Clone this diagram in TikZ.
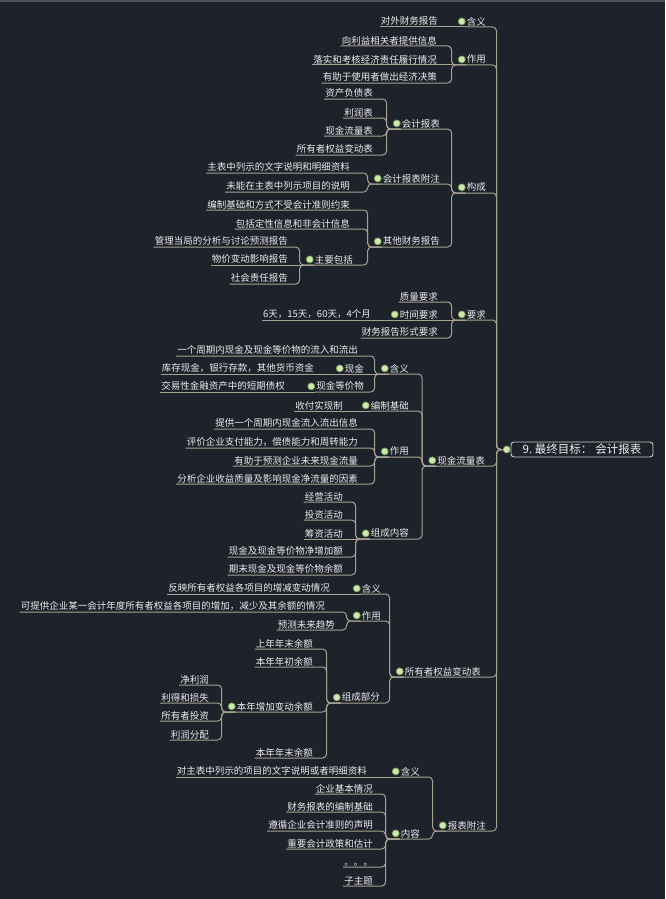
\documentclass[tikz,border=0pt]{standalone}
\usepackage{fontspec}
\newfontfamily\cjk{Noto Sans CJK SC}
\usetikzlibrary{positioning}
\definecolor{bgnavy}  {RGB}{30, 34, 43}
\definecolor{topbar}  {RGB}{78, 82, 90}
\definecolor{txtgray} {RGB}{236,236,236}
\definecolor{linetan} {RGB}{168,160,146}
\definecolor{dotgreen}{RGB}{208,232,172}
\definecolor{dotrim}  {RGB}{118,158, 88}

\tikzset{
  leaf/.style={anchor=south east, inner xsep=1pt, inner ysep=1pt, text=txtgray,
    font=\cjk\fontsize{9.5}{11}\selectfont},
  topicdot/.style={circle, fill=dotgreen, draw=dotrim, line width=0.7pt,
    minimum size=7pt, inner sep=0pt},
  subtopic/.style={leaf, label distance=0.5pt, label={[topicdot]left:}},
  rootbox/.style={draw=linetan!55!white, line width=0.9pt, rounded corners=3pt,
    text=txtgray, font=\cjk\fontsize{11.5}{13}\selectfont, minimum width=142pt,
    minimum height=15pt, inner sep=1pt, label distance=1pt, label={[topicdot]left:}},
  branchline/.style={draw=linetan, line width=1pt, rounded corners=4pt}
}
% children -> parent: underline, then bend into the parent's line
\newcommand{\joinkids}[2]{%
  \foreach \kid in {#2}
    \draw[branchline] (\kid.south west) -- (\kid.south east)
      -| ([xshift=-14pt]#1.south west) -- (#1.south west);}

\begin{document}
\begin{tikzpicture}[x=1pt, y=-1pt]
  % canvas
  \fill[bgnavy] (0,0) rectangle (665,899);
  \useasboundingbox (0,0) rectangle (665,899);
  \fill[topbar] (0,0) rectangle (665,2);

  % central topic
  \node[rootbox] (root) at (582,449.5) {9.\ 最终目标：\hspace{3pt}会计报表};

  % main branches
  \node[subtopic] (mean)   at (487,27)  {含义};
  \node[subtopic] (use)    at (487,65)  {作用};
  \node[subtopic] (comp)   at (487,193) {构成};
  \node[subtopic] (req)    at (487,320) {要求};
  \node[subtopic] (cash)   at (486,466) {现金流量表};
  \node[subtopic] (equity) at (482,677) {所有者权益变动表};
  \node[subtopic] (notes)  at (487,831) {报表附注};

  % 含义 / 作用
  \node[leaf] (m1) at (439,27) {对外财务报告};
  \node[leaf] (u1) at (438,46) {向利益相关者提供信息};
  \node[leaf] (u2) at (438,65) {落实和考核经济责任履行情况};
  \node[leaf] (u3) at (438,83) {有助于使用者做出经济决策};

  % 构成
  \node[subtopic] (rep) at (441,129) {会计报表};
  \node[leaf] (r1) at (374,99)  {资产负债表};
  \node[leaf] (r2) at (374,118) {利润表};
  \node[leaf] (r3) at (374,136) {现金流量表};
  \node[leaf] (r4) at (374,155) {所有者权益变动表};
  \node[subtopic] (fn) at (441,184) {会计报表附注};
  \node[leaf] (f1) at (351,173) {主表中列示的文字说明和明细资料};
  \node[leaf] (f2) at (351,192) {未能在主表中列示项目的说明};
  \node[subtopic] (oth) at (441,247) {其他财务报告};
  \node[leaf] (o1) at (351,210) {编制基础和方式不受会计准则约束};
  \node[leaf] (o2) at (351,229) {包括定性信息和非会计信息};
  \node[subtopic] (main) at (354,265) {主要包括};
  \node[leaf] (a1) at (289,247) {管理当局的分析与讨论预测报告};
  \node[leaf] (a2) at (289,265) {物价变动影响报告};
  \node[leaf] (a3) at (289,284) {社会责任报告};

  % 要求
  \node[leaf] (q1) at (439,302) {质量要求};
  \node[subtopic] (tim) at (439,320) {时间要求};
  \node[leaf] (t1) at (372,320) {6天，15天，60天，4个月};
  \node[leaf] (q3) at (439,338) {财务报告形式要求};

  % 现金流量表
  \node[subtopic] (cm) at (410,374) {含义};
  \node[leaf] (c1) at (359,356) {一个周期内现金及现金等价物的流入和流出};
  \node[subtopic] (csh) at (365,374) {现金};
  \node[leaf] (c2) at (315,374) {库存现金，银行存款，其他货币资金};
  \node[subtopic] (ceq) at (365,392) {现金等价物};
  \node[leaf] (c3) at (286,392) {交易性金融资产中的短期债权};
  \node[subtopic] (cb) at (410,411) {编制基础};
  \node[leaf] (b1) at (344,411) {收付实现制};
  \node[subtopic] (cu) at (410,457) {作用};
  \node[leaf] (w1) at (359,429) {提供一个周期内现金流入流出信息};
  \node[leaf] (w2) at (359,448) {评价企业支付能力，偿债能力和周转能力};
  \node[leaf] (w3) at (359,466) {有助于预测企业未来现金流量};
  \node[leaf] (w4) at (359,484) {分析企业收益质量及影响现金净流量的因素};
  \node[subtopic] (cc) at (410,539) {组成内容};
  \node[leaf] (k1) at (344,502) {经营活动};
  \node[leaf] (k2) at (344,520) {投资活动};
  \node[leaf] (k3) at (344,539) {筹资活动};
  \node[leaf] (k4) at (344,557) {现金及现金等价物净增加额};
  \node[leaf] (k5) at (344,575) {期末现金及现金等价物余额};

  % 所有者权益变动表
  \node[subtopic] (em) at (382,594) {含义};
  \node[leaf] (e1) at (331,594) {反映所有者权益各项目的增减变动情况};
  \node[subtopic] (eu) at (382,621) {作用};
  \node[leaf] (e2) at (326,612) {可提供企业某一会计年度所有者权益各项目的增加，减少及其余额的情况};
  \node[leaf] (e3) at (336,630) {预测未来趋势};
  \node[subtopic] (ep) at (381,703) {组成部分};
  \node[leaf] (p1) at (314,649) {上年年末余额};
  \node[leaf] (p2) at (314,667) {本年年初余额};
  \node[subtopic] (pinc) at (314,712) {本年增加变动余额};
  \node[leaf] (i1) at (210,685) {净利润};
  \node[leaf] (i2) at (210,703) {利得和损失};
  \node[leaf] (i3) at (210,721) {所有者投资};
  \node[leaf] (i4) at (210,740) {利润分配};
  \node[leaf] (p5) at (314,758) {本年年末余额};

  % 报表附注
  \node[subtopic] (nm) at (421,777) {含义};
  \node[leaf] (n1) at (368,777) {对主表中列示的项目的文字说明或者明细资料};
  \node[subtopic] (nc) at (421,839) {内容};
  \node[leaf] (d1) at (374,794) {企业基本情况};
  \node[leaf] (d2) at (374,812) {财务报表的编制基础};
  \node[leaf] (d3) at (374,831) {遵循企业会计准则的声明};
  \node[leaf] (d4) at (374,849) {重要会计政策和估计};
  \node[leaf] (d5) at (374,867) {。。。};
  \node[leaf] (d6) at (374,886) {子主题};

  % connectors
  \draw[branchline] (m1.south west) -- (mean.south west);
  \joinkids{use}{u1,u3}
  \draw[branchline] (u2.south west) -- (use.south west);
  \joinkids{rep}{r1,r2,r3,r4}
  \joinkids{fn}{f1,f2}
  \joinkids{main}{a1,a3}
  \draw[branchline] (a2.south west) -- (main.south west);
  \joinkids{oth}{o1,o2,main}
  \joinkids{comp}{rep,fn,oth}
  \joinkids{req}{q1,q3}
  \draw[branchline] (t1.south west) -- (tim.south west);
  \draw[branchline] (tim.south west) -- (req.south west);
  \draw[branchline] (c2.south west) -- (csh.south west);
  \draw[branchline] (c3.south west) -- (ceq.south west);
  \joinkids{cm}{c1,ceq}
  \draw[branchline] (csh.south west) -- (cm.south west);
  \draw[branchline] (b1.south west) -- (cb.south west);
  \joinkids{cu}{w1,w2,w3,w4}
  \joinkids{cc}{k1,k2,k4,k5}
  \draw[branchline] (k3.south west) -- (cc.south west);
  \joinkids{cash}{cm,cb,cu,cc}
  \draw[branchline] (e1.south west) -- (em.south west);
  \joinkids{eu}{e2,e3}
  \joinkids{pinc}{i1,i2,i3,i4}
  \joinkids{ep}{p1,p2,pinc,p5}
  \joinkids{equity}{em,eu,ep}
  \draw[branchline] (n1.south west) -- (nm.south west);
  \joinkids{nc}{d1,d2,d3,d4,d5,d6}
  \joinkids{notes}{nm,nc}
  \foreach \kid in {mean,use,comp,req,cash,equity,notes}
    \draw[branchline] (\kid.south west) -- (\kid.south east)
      -| ([xshift=-14pt]root.west) -- ([xshift=-8pt]root.west);
\end{tikzpicture}
\end{document}
